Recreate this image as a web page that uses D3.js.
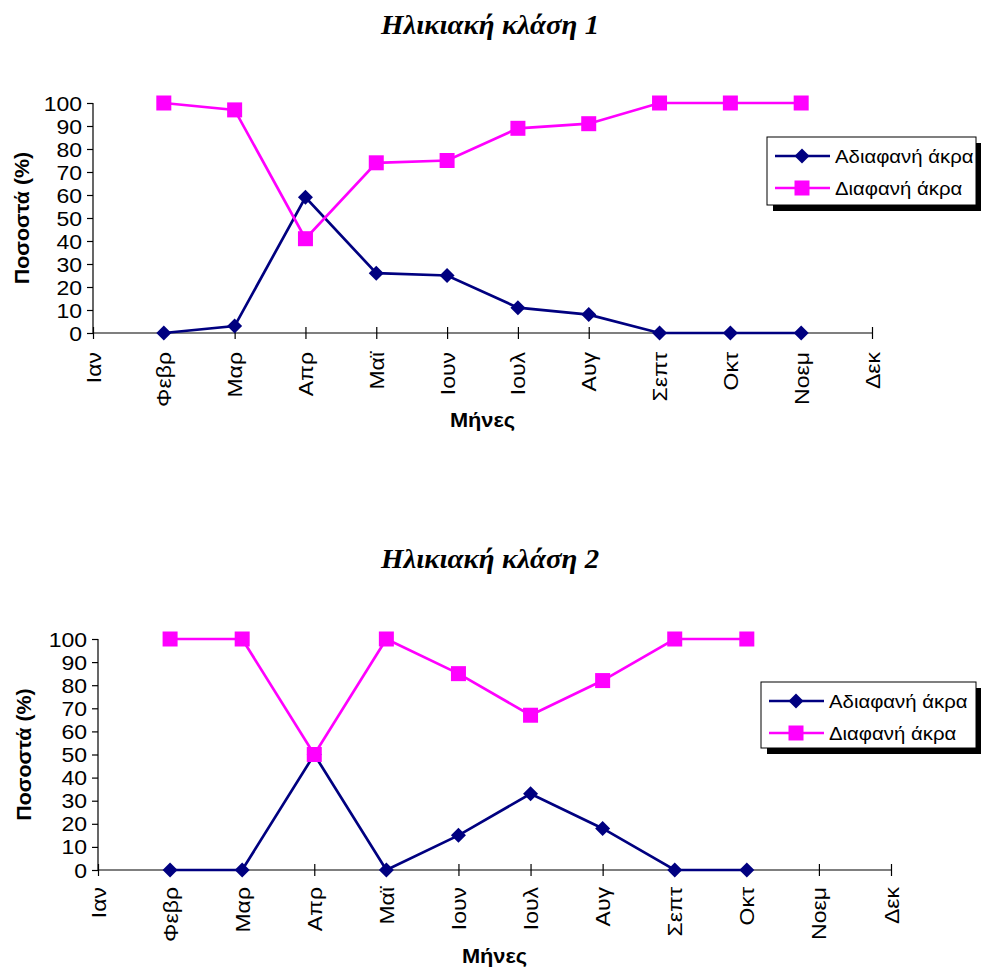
<!DOCTYPE html>
<html>
<head>
<meta charset="utf-8">
<script src="https://cdn.jsdelivr.net/npm/d3@7"></script>
<style>
  html, body { margin: 0; padding: 0; background: #fff; }
  svg { display: block; }
</style>
</head>
<body>
<div id="chart"></div>
<script>
// Months shown on the category axis
const months = ["Ιαν", "Φεβρ", "Μαρ", "Απρ", "Μαϊ", "Ιουν", "Ιουλ", "Αυγ", "Σεπτ", "Οκτ", "Νοεμ", "Δεκ"];
const yTicks = [0, 10, 20, 30, 40, 50, 60, 70, 80, 90, 100];
const seriesNames = ["Αδιαφανή άκρα", "Διαφανή άκρα"];
const titles = ["Ηλικιακή κλάση 1", "Ηλικιακή κλάση 2"];
const yTitle = "Ποσοστά (%)";
const xTitle = "Μήνες";

// Age class 1 (% per month; null = no sample)
const opaque1 = [null, 0, 3, 59, 26, 25, 11, 8, 0, 0, 0, null];
const clear1  = [null, 100, 97, 41, 74, 75, 89, 91, 100, 100, 100, null];
// Age class 2
const opaque2 = [null, 0, 0, 50, 0, 15, 33, 18, 0, 0, null, null];
const clear2  = [null, 100, 100, 50, 100, 85, 67, 82, 100, 100, null, null];

const W = 981, H = 969;
const svg = d3.select("#chart").append("svg").attr("width", W).attr("height", H);

const NAVY = "#000080", MAGENTA = "#FF00FF";
const SANS = "'Liberation Sans', Arial, sans-serif";
const SERIF = "'Liberation Serif', 'Times New Roman', serif";

// The chart's text is set in a wide face; a horizontal stretch reproduces it
const WIDE_TICK = 1.18, WIDE_LEGEND = 1.1, WIDE_XTITLE = 1.09, WIDE_YTITLE = 1.1, WIDE_TITLE = 1.07;

function drawPanel(p) {
  const g = svg.append("g");
  const x = d3.scalePoint().domain(months).range([p.x0, p.x1]);
  const y = d3.scaleLinear().domain([0, 100]).range([p.yb, p.yt]);

  // title
  g.append("text")
    .attr("transform", `translate(490,${p.titleY}) scale(${WIDE_TITLE},1)`)
    .attr("text-anchor", "middle")
    .style("font-family", SERIF)
    .style("font-weight", "bold").style("font-style", "italic")
    .style("font-size", "27px")
    .text(p.title);

  // y axis
  const yAxis = d3.axisLeft(y).tickValues(yTicks).tickSize(6).tickFormat(d3.format("d"));
  const ya = g.append("g").attr("transform", `translate(${p.x0},0)`).call(yAxis);
  ya.select(".domain").attr("stroke", "#000").attr("stroke-width", 1.2).attr("d", `M0,${p.yt}V${p.yb}`);
  ya.selectAll(".tick line").attr("stroke", "#000").attr("stroke-width", 1.2);
  ya.selectAll(".tick text")
    .attr("x", 0).attr("dy", "0.36em")
    .attr("transform", `translate(${-p.yLabelGap},0) scale(${WIDE_TICK},1)`)
    .style("font-family", SANS).style("font-size", "19.5px").attr("fill", "#000");

  // x axis: ticks cross the axis line
  const xAxis = d3.axisBottom(x).tickSize(0).tickPadding(0);
  const xa = g.append("g").attr("transform", `translate(0,${p.yb})`).call(xAxis);
  xa.select(".domain").attr("stroke", "#000").attr("stroke-width", 1.2).attr("d", `M${p.x0},0H${p.x1}`);
  xa.selectAll(".tick line").attr("stroke", "#000").attr("stroke-width", 1.2).attr("y1", -6).attr("y2", 6);
  xa.selectAll(".tick text")
    .style("font-family", SANS).style("font-size", "19.5px").attr("fill", "#000")
    .attr("text-anchor", "end")
    .attr("transform", `translate(0,${p.labelGap}) rotate(-90) scale(${WIDE_TICK},1)`)
    .attr("x", 0).attr("y", 0).attr("dy", "0.36em");

  // axis titles
  g.append("text")
    .attr("transform", `translate(${p.yTitleX},${(p.yt + p.yb) / 2}) rotate(-90) scale(${WIDE_YTITLE},1)`)
    .attr("text-anchor", "middle").attr("dy", "0.36em")
    .style("font-family", SANS).style("font-weight", "bold").style("font-size", "19.5px")
    .text(yTitle);
  g.append("text")
    .attr("transform", `translate(${(p.x0 + p.x1) / 2},${p.xTitleY}) scale(${WIDE_XTITLE},1)`)
    .attr("text-anchor", "middle")
    .style("font-family", SANS).style("font-weight", "bold").style("font-size", "20px")
    .text(xTitle);

  const line = d3.line().defined(d => d.v !== null).x(d => x(d.m)).y(d => y(d.v));
  const toPts = arr => months.map((m, i) => ({ m, v: arr[i] }));

  const series = [
    { vals: p.opaque, color: NAVY, shape: "diamond" },
    { vals: p.clear, color: MAGENTA, shape: "square" }
  ];
  series.forEach(s => {
    const pts = toPts(s.vals);
    g.append("path").datum(pts).attr("d", line)
      .attr("fill", "none").attr("stroke", s.color).attr("stroke-width", 2.7);
    drawMarkers(g, pts.filter(d => d.v !== null).map(d => [x(d.m), y(d.v)]), s);
  });

  // legend with drop shadow
  const L = p.legend;
  g.append("rect").attr("x", L.x + 6).attr("y", L.y + 6).attr("width", L.w).attr("height", L.h).attr("fill", "#000");
  g.append("rect").attr("x", L.x).attr("y", L.y).attr("width", L.w).attr("height", L.h)
    .attr("fill", "#fff").attr("stroke", "#000").attr("stroke-width", 1);
  series.forEach((s, i) => {
    const cy = L.y + 19 + i * 32;
    g.append("line").attr("x1", L.x + 8).attr("x2", L.x + 63).attr("y1", cy).attr("y2", cy)
      .attr("stroke", s.color).attr("stroke-width", 2.7);
    drawMarkers(g, [[L.x + 35, cy]], s);
    g.append("text")
      .attr("transform", `translate(${L.x + 68},${cy}) scale(${WIDE_LEGEND},1)`)
      .attr("dy", "0.36em")
      .style("font-family", SANS).style("font-size", "18.5px").text(seriesNames[i]);
  });
}

function drawMarkers(g, pts, s) {
  if (s.shape === "diamond") {
    const r = 7.5;
    g.selectAll(null).data(pts).enter().append("path")
      .attr("d", d => `M${d[0]},${d[1] - r}L${d[0] + r},${d[1]}L${d[0]},${d[1] + r}L${d[0] - r},${d[1]}Z`)
      .attr("fill", s.color);
  } else {
    const h = 7.5;
    g.selectAll(null).data(pts).enter().append("rect")
      .attr("x", d => d[0] - h).attr("y", d => d[1] - h).attr("width", 2 * h).attr("height", 2 * h)
      .attr("fill", s.color);
  }
}

drawPanel({
  title: titles[0], titleY: 34,
  x0: 93, x1: 872, yt: 103, yb: 333, labelGap: 19, yLabelGap: 11,
  yTitleX: 22, xTitleY: 427,
  opaque: opaque1, clear: clear1,
  legend: { x: 767, y: 137, w: 209, h: 68 }
});
drawPanel({
  title: titles[1], titleY: 568,
  x0: 98, x1: 891, yt: 639, yb: 870, labelGap: 17, yLabelGap: 11,
  yTitleX: 24, xTitleY: 963,
  opaque: opaque2, clear: clear2,
  legend: { x: 761, y: 682, w: 215, h: 66 }
});
</script>
</body>
</html>
